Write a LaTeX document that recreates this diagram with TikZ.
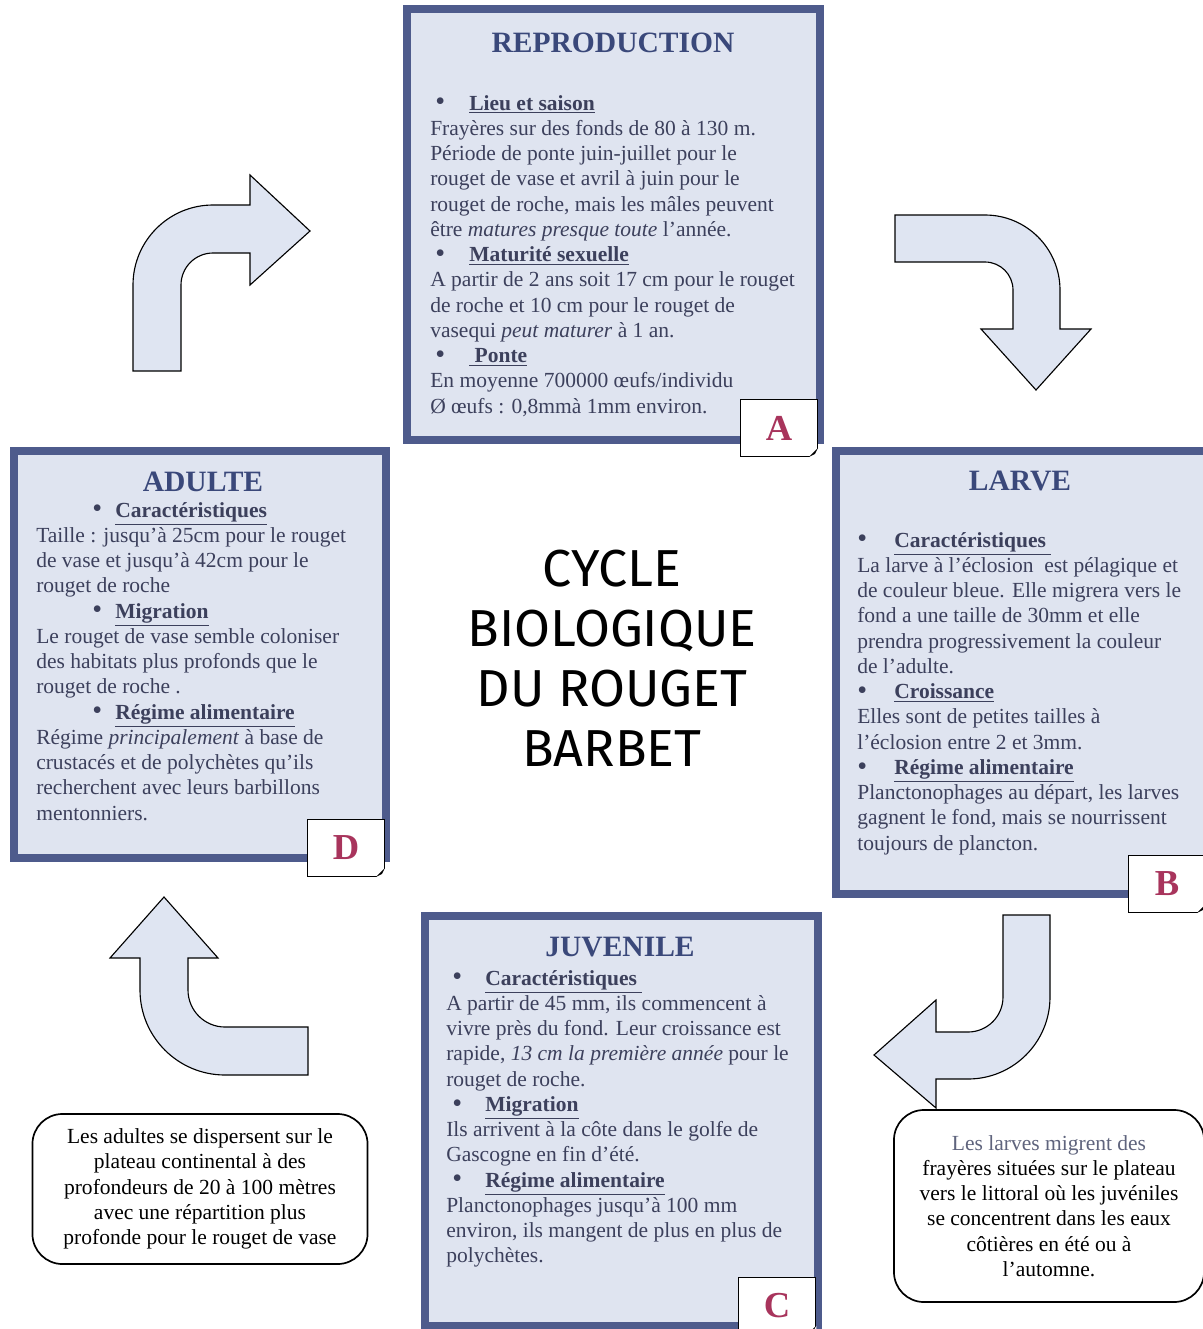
\documentclass[tikz,border=0pt]{standalone}
\usepackage{fontspec}
\setmainfont{Liberation Serif}
\newfontfamily\titlefont{Fira Sans}
\usetikzlibrary{positioning, fit, calc}
\definecolor{framecolor}{RGB}{78,91,140}
\definecolor{panelcolor}{RGB}{223,228,240}
\definecolor{titlecolor}{RGB}{58,72,122}
\definecolor{textcolor}{RGB}{60,64,92}
\definecolor{lettercolor}{RGB}{168,52,92}
\definecolor{arrowcolor}{RGB}{223,229,242}
\definecolor{notegray}{RGB}{95,100,125}

% bullet + underlined rubric
\newcommand{\rub}[3]{\hspace*{#1}\makebox[#2][l]{\raisebox{-0.5pt}{\fontsize{20}{17.93}\selectfont\textbullet}}\underline{\textbf{#3}}}

\begin{document}
\begin{tikzpicture}[
    x=0.025cm, y=-0.025cm,
    panel/.style={draw=framecolor, line width=5.5pt, fill=panelcolor, inner sep=0pt},
    stagetitle/.style={font=\fontsize{21}{25}\selectfont\bfseries, text=titlecolor, anchor=base, inner sep=0pt},
    stagetext/.style={font=\fontsize{15.3}{17.95}\selectfont, text=textcolor, align=left, anchor=north west, inner sep=0pt},
    lettertab/.style={draw, line width=0.6pt, fill=white, minimum width=1.925cm, minimum height=1.425cm, inner sep=0pt, font=\fontsize{26}{30}\selectfont\bfseries, text=lettercolor},
    turnarrow/.style={draw, line width=0.8pt, fill=arrowcolor, line join=miter},
    callout/.style={draw, line width=1.2pt, rounded corners=0.75cm, fill=white, align=center, inner sep=0pt, font=\fontsize{15.3}{17.93}\selectfont}
]
    \useasboundingbox (0,0) rectangle (1203,1329);
    \clip (0,0) rectangle (1203,1329);

    % stage panels
    \node[panel, fit={(407,9) (820,440)}] (reprobox) {};
    \node[panel, fit={(14,451) (386,858)}] (adultbox) {};
    \node[panel, fit={(836,451) (1212,894)}] (larvebox) {};
    \node[panel, fit={(425,916) (818,1326)}] (juvenilebox) {};

    % REPRODUCTION
    \node[stagetitle] (reprotitle) at (613,52) {REPRODUCTION};
    \node[stagetext] (reprotext) at (430,92.3) {\strut\rub{0.125cm}{0.85cm}{Lieu et saison}\\
        Frayères sur des fonds de 80 à 130 m.\\
        Période de ponte juin-juillet pour le\\
        rouget de vase et avril à juin pour le\\
        rouget de roche, mais les mâles peuvent\\
        être \textit{matures presque toute} l’année.\\
        \rub{0.125cm}{0.85cm}{Maturité sexuelle}\\
        A partir de 2 ans soit 17 cm pour le rouget\\
        de roche et 10 cm pour le rouget de\\
        vasequi \textit{peut maturer} à 1 an.\\
        \rub{0.125cm}{0.85cm}{\ Ponte}\\
        En moyenne 700000 œufs/individu\\
        Ø œufs : 0,8mmà 1mm environ.};

    % ADULTE
    \node[stagetitle] (adulttitle) at (203,491) {ADULTE};
    \node[stagetext] (adulttext) at (36,499.3) {\strut\rub{1.4cm}{0.575cm}{Caractéristiques}\\
        Taille : jusqu’à 25cm pour le rouget\\
        de vase et jusqu’à 42cm pour le\\
        rouget de roche\\
        \rub{1.4cm}{0.575cm}{Migration}\\
        Le rouget de vase semble coloniser\\
        des habitats plus profonds que le\\
        rouget de roche .\\
        \rub{1.4cm}{0.575cm}{Régime alimentaire}\\
        Régime \textit{principalement} à base de\\
        crustacés et de polychètes qu’ils\\
        recherchent avec leurs barbillons\\
        mentonniers.};

    % LARVE
    \node[stagetitle] (larvetitle) at (1020,490) {LARVE};
    \node[stagetext] (larvetext) at (857,529.3) {\strut\rub{0cm}{0.925cm}{Caractéristiques\ }\\
        La larve à l’éclosion~ est pélagique et\\
        de couleur bleue. Elle migrera vers le\\
        fond a une taille de 30mm et elle\\
        prendra progressivement la couleur\\
        de l’adulte.\\
        \rub{0cm}{0.925cm}{Croissance}\\
        Elles sont de petites tailles à\\
        l’éclosion entre 2 et 3mm.\\
        \rub{0cm}{0.925cm}{Régime alimentaire}\\
        Planctonophages au départ, les larves\\
        gagnent le fond, mais se nourrissent\\
        toujours de plancton.};

    % JUVENILE
    \node[stagetitle] (juveniletitle) at (620,956) {JUVENILE};
    \node[stagetext] (juveniletext) at (446,967.3) {\strut\rub{0.15cm}{0.825cm}{Caractéristiques\ }\\
        A partir de 45 mm, ils commencent à\\
        vivre près du fond. Leur croissance est\\
        rapide, \textit{13 cm la première année} pour le\\
        rouget de roche.\\
        \rub{0.15cm}{0.825cm}{Migration}\\
        Ils arrivent à la côte dans le golfe de\\
        Gascogne en fin d’été.\\
        \rub{0.15cm}{0.825cm}{Régime alimentaire}\\
        Planctonophages jusqu’à 100 mm\\
        environ, ils mangent de plus en plus de\\
        polychètes.};

    % letter tabs
    \node[lettertab] (taba) at (779,428) {A};
    \node[lettertab] (tabd) at (346,848) {D};
    \node[lettertab] (tabb) at (1167,884) {B};
    \node[lettertab] (tabc) at (777,1306) {C};
    \foreach \t in {taba,tabd,tabb,tabc}{
        \fill[white] ([shift={(-9,0.5)}]\t.south east) -- ([shift={(0.5,0.5)}]\t.south east) -- ([shift={(0.5,-9)}]\t.south east) -- cycle;
        \fill[black] ([shift={(-9,0)}]\t.south east) -- ([shift={(0,-9)}]\t.south east) -- ([shift={(-3,-3)}]\t.south east) -- cycle;
    }

    % centre title
    \node[font=\titlefont\fontsize{37}{42.7}\selectfont, align=center, inner sep=0pt] (cycletitle) at (612,658)
        {CYCLE\\BIOLOGIQUE\\DU ROUGET\\BARBET};

    % turning arrows
    \draw[turnarrow] (133,371) -- (133,285) arc[start angle=180, end angle=270, radius=80]
        -- (250,205) -- (250,175) -- (310,231) -- (250,285) -- (250,253) -- (213,253)
        arc[start angle=270, end angle=180, radius=32] -- (181,371) -- cycle;
    \draw[turnarrow] (895,215) -- (985,215) arc[start angle=270, end angle=360, radius=75]
        -- (1060,329) -- (1091,329) -- (1036,390) -- (981,329) -- (1013,329) -- (1013,290)
        arc[start angle=0, end angle=-90, radius=28] -- (895,262) -- cycle;
    \draw[turnarrow] (1003,915) -- (1050,915) -- (1050,997) arc[start angle=0, end angle=90, radius=82]
        -- (936,1079) -- (936,1108) -- (874,1055) -- (936,1000) -- (936,1032) -- (968,1032)
        arc[start angle=90, end angle=0, radius=35] -- cycle;
    \draw[turnarrow] (308,1075) -- (225,1075) arc[start angle=90, end angle=180, radius=85]
        -- (140,958) -- (110,958) -- (164,897) -- (218,958) -- (188,958) -- (188,990)
        arc[start angle=180, end angle=90, radius=37] -- (308,1027) -- cycle;

    % migration notes
    \node[callout, minimum width=8.375cm, minimum height=3.75cm] (adultnote) at (200,1189)
        {Les adultes se dispersent sur le\\
        plateau continental à des\\
        profondeurs de 20 à 100 mètres\\
        avec une répartition plus\\
        profonde pour le rouget de vase};
    \node[callout, minimum width=7.75cm, minimum height=4.8cm] (larvenote) at (1049,1206)
        {\textcolor{notegray}{Les larves migrent des}\\
        frayères situées sur le plateau\\
        vers le littoral où les juvéniles\\
        se concentrent dans les eaux\\
        côtières en été ou à\\
        l’automne.};
\end{tikzpicture}
\end{document}
